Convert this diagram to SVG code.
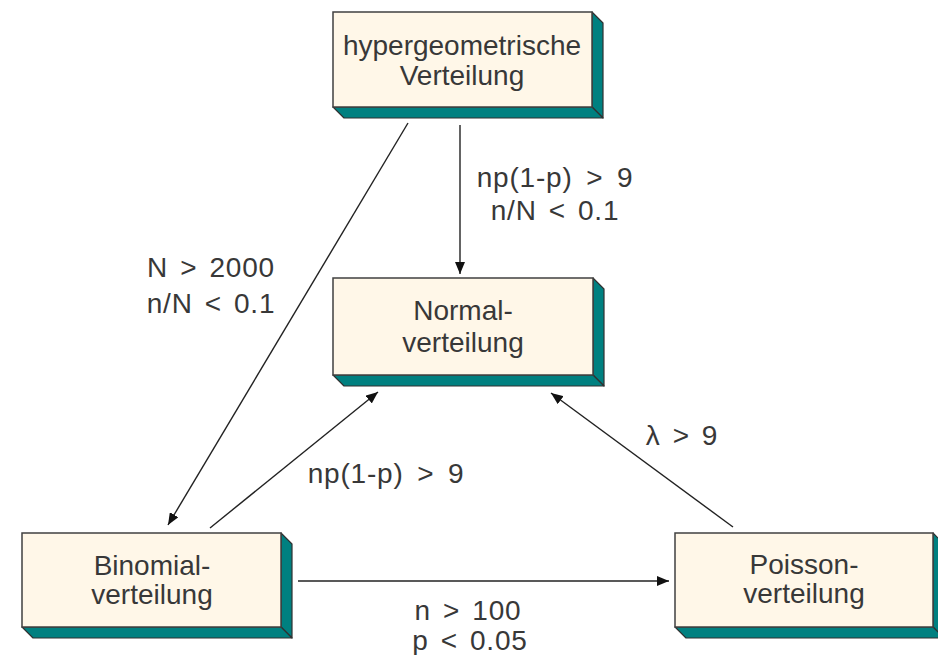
<svg xmlns="http://www.w3.org/2000/svg" width="938" height="655" viewBox="0 0 938 655">
<style>
.face{fill:#FFF7E8;stroke:#404040;stroke-width:1.5}
.side{fill:#008080;stroke:#303030;stroke-width:1.2;stroke-linejoin:round}
.t{font-family:"Liberation Sans",Arial,sans-serif;font-size:28px;fill:#383838;text-anchor:middle}
.w{letter-spacing:0.8px;word-spacing:3.5px}
.w9{letter-spacing:0.8px;word-spacing:5px}
.c{stroke:#222;stroke-width:1.4;fill:none}
</style>
<defs>
<marker id="ah" viewBox="0 0 12 10" refX="12" refY="5" markerWidth="12" markerHeight="10" markerUnits="userSpaceOnUse" orient="auto">
<path d="M0,0 L12,5 L0,10 z" fill="#111"/>
</marker>
</defs>
<rect width="938" height="655" fill="#fff"/>
<g id="connectors">
<line class="c" x1="460" y1="125" x2="460" y2="274" marker-end="url(#ah)"/>
<line class="c" x1="408" y1="123" x2="168" y2="525" marker-end="url(#ah)"/>
<line class="c" x1="210" y1="528" x2="378" y2="392" marker-end="url(#ah)"/>
<line class="c" x1="733" y1="527" x2="551" y2="393" marker-end="url(#ah)"/>
<line class="c" x1="298" y1="581" x2="669" y2="581" marker-end="url(#ah)"/>
<text class="t w9" x="555" y="187">np(1-p) &gt; 9</text>
<text class="t w" x="555" y="220">n/N &lt; 0.1</text>
<text class="t w" x="211" y="277">N &gt; 2000</text>
<text class="t w" x="211" y="313">n/N &lt; 0.1</text>
<text class="t w9" x="386" y="483">np(1-p) &gt; 9</text>
<text class="t w" x="682" y="445">λ &gt; 9</text>
<text class="t w" x="468" y="620">n &gt; 100</text>
<text class="t w" x="470" y="650">p &lt; 0.05</text>
</g>
<g id="hyper">
<polygon class="side" points="592,12 603,23 603,118 592,107"/>
<polygon class="side" points="333,107 592,107 603,118 344,118"/>
<rect class="face" x="333" y="12" width="259" height="95"/>
<text class="t" x="462" y="55">hypergeometrische</text>
<text class="t" x="462" y="85">Verteilung</text>
</g>
<g id="normal">
<polygon class="side" points="593,278 604,289 604,386 593,375"/>
<polygon class="side" points="333,375 593,375 604,386 344,386"/>
<rect class="face" x="333" y="278" width="260" height="97"/>
<text class="t" x="463" y="320">Normal-</text>
<text class="t" x="463" y="352">verteilung</text>
</g>
<g id="binomial">
<polygon class="side" points="281,533 292,544 292,638 281,627"/>
<polygon class="side" points="22,627 281,627 292,638 33,638"/>
<rect class="face" x="22" y="533" width="259" height="94"/>
<text class="t" x="152" y="575">Binomial-</text>
<text class="t" x="152" y="604">verteilung</text>
</g>
<g id="poisson">
<polygon class="side" points="933,533 944,544 944,638 933,627"/>
<polygon class="side" points="675,627 933,627 944,638 686,638"/>
<rect class="face" x="675" y="533" width="258" height="94"/>
<text class="t" x="804" y="574">Poisson-</text>
<text class="t" x="804" y="603">verteilung</text>
</g>
</svg>
